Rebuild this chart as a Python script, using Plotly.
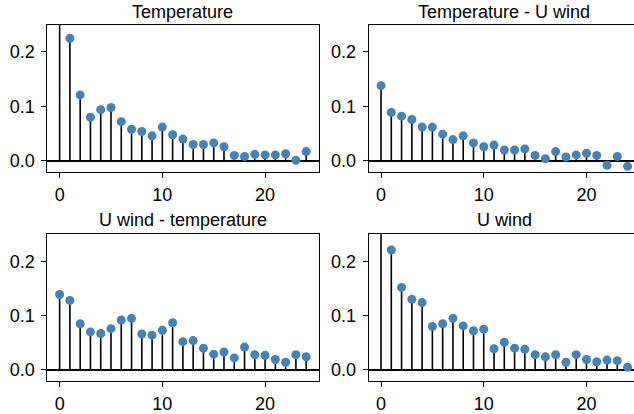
import plotly.graph_objects as go

lags = list(range(25))
titles = ["Temperature", "Temperature - U wind", "U wind - temperature", "U wind"]

temperature = [1.0, 0.225, 0.121, 0.080, 0.094, 0.098, 0.072, 0.058, 0.054, 0.046, 0.062,
               0.048, 0.040, 0.030, 0.030, 0.033, 0.026, 0.010, 0.008, 0.012, 0.011,
               0.011, 0.013, 0.001, 0.017]
temp_uwind = [0.138, 0.089, 0.082, 0.076, 0.062, 0.062, 0.049, 0.039, 0.046, 0.033, 0.026,
              0.029, 0.020, 0.020, 0.022, 0.010, 0.004, 0.017, 0.007, 0.011, 0.014,
              0.010, -0.008, 0.008, -0.010]
uwind_temp = [0.139, 0.128, 0.085, 0.070, 0.067, 0.076, 0.092, 0.095, 0.066, 0.064, 0.073,
              0.087, 0.052, 0.054, 0.040, 0.029, 0.033, 0.022, 0.042, 0.028, 0.027,
              0.019, 0.014, 0.028, 0.024]
uwind = [1.0, 0.221, 0.152, 0.130, 0.124, 0.080, 0.085, 0.095, 0.081, 0.072, 0.075,
         0.039, 0.051, 0.040, 0.038, 0.028, 0.024, 0.028, 0.014, 0.028, 0.019,
         0.015, 0.018, 0.017, 0.005]
series = [temperature, temp_uwind, uwind_temp, uwind]

W, H = 634, 414
# plot area pixel boxes (left, right, top, bottom) and title centre y
boxes = [(47.3, 318.5, 25, 174.3), (368.7, 634, 25, 174.3),
         (47.3, 318.5, 237.7, 386.3), (368.7, 634, 237.7, 386.3)]
title_y = [12.2, 12.2, 223.3, 223.3]
px_per_unit = (318.5 - 47.3) / 26.4

FONT = "Liberation Sans, Arial, sans-serif"
FS = 18
fig = go.Figure()
layout = dict(width=W, height=H, margin=dict(l=0, r=0, t=0, b=0),
              plot_bgcolor="white", paper_bgcolor="white", showlegend=False,
              font=dict(family=FONT, size=FS, color="black"), annotations=[])

for i, (vals, title, box) in enumerate(zip(series, titles, boxes)):
    n = "" if i == 0 else str(i + 1)
    xa, ya = "x" + n, "y" + n
    sx, sy = [], []
    for lag, v in zip(lags, vals):
        sx += [lag, lag, None]
        sy += [0, v, None]
    fig.add_trace(go.Scatter(x=sx, y=sy, mode="lines", xaxis=xa, yaxis=ya,
                             line=dict(color="black", width=1.6), hoverinfo="skip"))
    fig.add_trace(go.Scatter(x=lags, y=vals, mode="markers", xaxis=xa, yaxis=ya,
                             marker=dict(color="#4682B4", size=9, line=dict(width=0))))
    l, r, t, b = box
    right_col = i % 2 == 1
    x0 = -1.2
    x1 = x0 + (r - l) / px_per_unit
    layout["xaxis" + n] = dict(domain=[l / W, r / W], range=[x0, x1], anchor=ya,
                               tickvals=[0, 10, 20], ticks="outside", ticklen=5,
                               tickcolor="black", tickwidth=1, showline=True,
                               linecolor="black", linewidth=1, mirror=True,
                               showgrid=False, zeroline=False,
                               tickfont=dict(size=FS), ticklabelstandoff=2)
    layout["yaxis" + n] = dict(domain=[1 - b / H, 1 - t / H], range=[-0.02, 0.25],
                               anchor=xa, tickvals=[0.0, 0.1, 0.2], tickformat=".1f",
                               ticks="outside", ticklen=5, tickcolor="black", tickwidth=1,
                               showline=True, linecolor="black", linewidth=1,
                               mirror=False if right_col else True, showgrid=False,
                               zeroline=True, zerolinecolor="black", zerolinewidth=1.6,
                               tickfont=dict(size=FS), ticklabelstandoff=3)
    cx = (l + (640 if right_col else r)) / 2
    layout["annotations"].append(dict(text=title, xref="paper", yref="paper",
                                      x=cx / W, y=1 - title_y[i] / H, xanchor="center",
                                      yanchor="middle", showarrow=False,
                                      font=dict(size=FS, family=FONT)))

fig.update_layout(**layout)
fig.write_html("out.html", config={"displayModeBar": False, "staticPlot": True},
               post_script="document.body.style.margin='0';document.body.style.padding='0';document.body.style.overflow='hidden';")
